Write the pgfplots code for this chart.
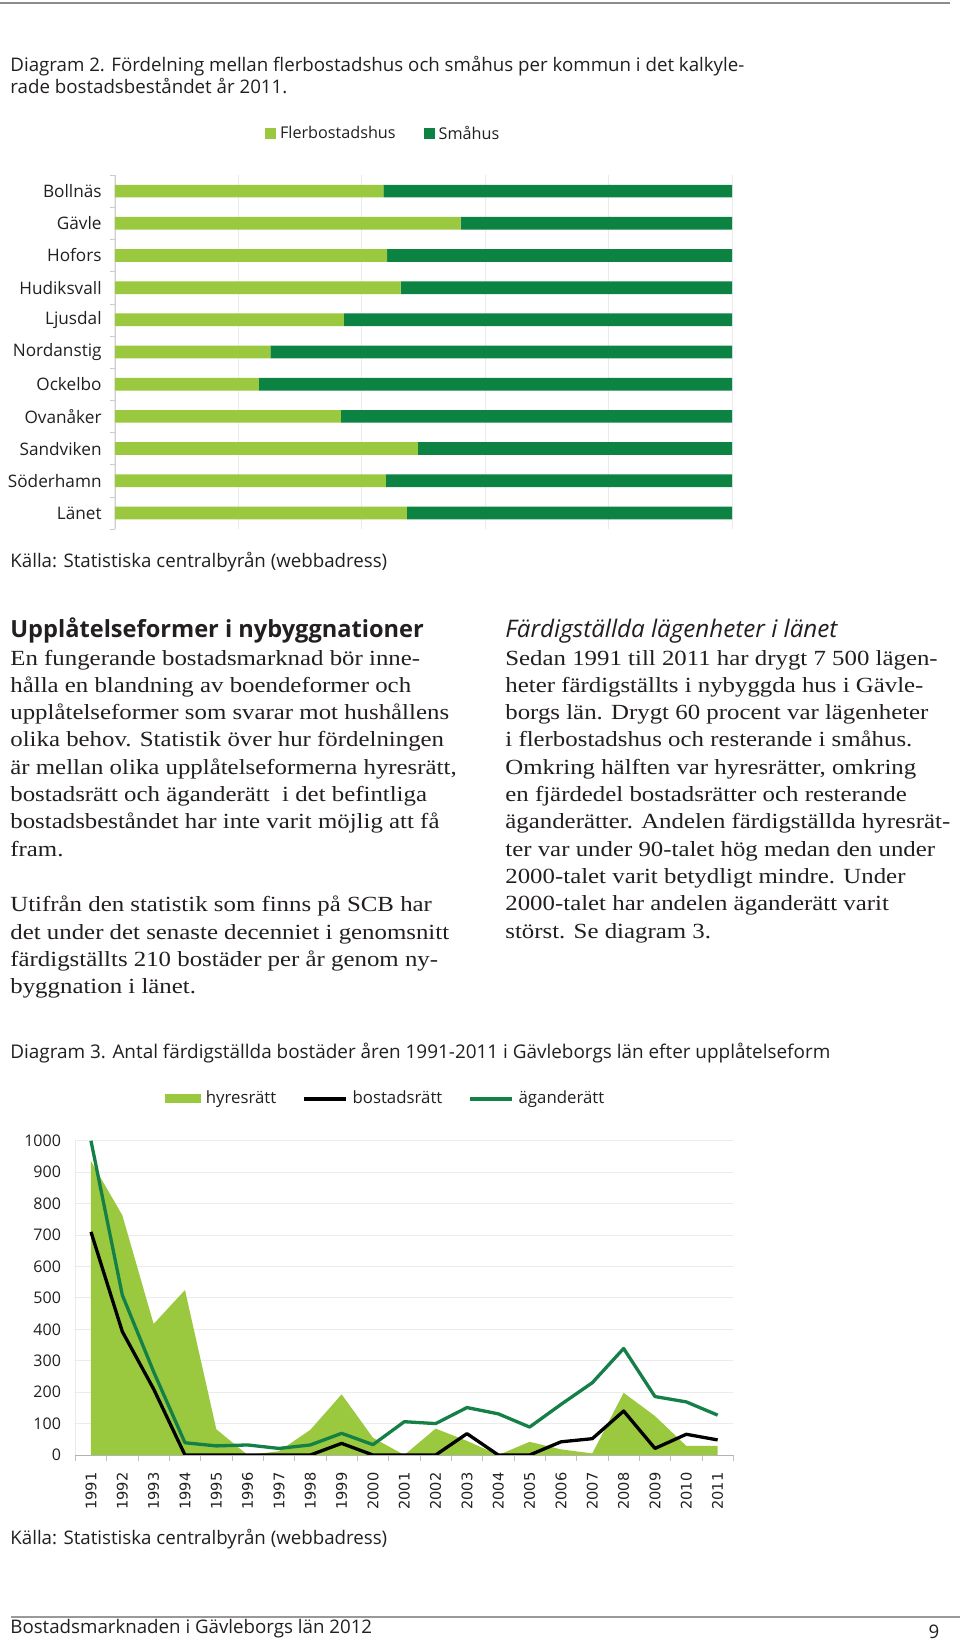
\documentclass[border=0pt]{standalone}
\usepackage{fontspec}
\usepackage{pgfplots}
\pgfplotsset{compat=1.18}
\setmainfont{Liberation Serif}
\newfontfamily\osans{Open Sans}
\newfontfamily\bodyserif[FakeStretch=1.15]{Liberation Serif}
\newfontfamily\yearfont{DejaVu Sans}
\definecolor{lgreen}{RGB}{154,200,62}
\definecolor{dgreen}{RGB}{12,131,67}
\definecolor{lgline}{RGB}{20,128,72}
\definecolor{txt}{RGB}{35,31,32}
\newcommand\chartfnt{\osans\fontsize{9.35}{11}\selectfont}
\newcommand\bodyfnt{\bodyserif\fontsize{10.8}{13.65}\selectfont}
\newcommand\bl[3]{\node[anchor=base west, inner sep=0pt, font=\bodyfnt, text=txt] at (#1,#2) {#3};}
\pgfplotsset{
  sqlegend/.style={legend image code/.code={\fill[##1] (0pt,-2.75pt) rectangle (5.5pt,2.75pt);}},
  arealegend/.style={legend image code/.code={\fill[##1] (0pt,-2.25pt) rectangle (18pt,2.25pt);}},
  linelegend/.style={legend image code/.code={\draw[##1] (0pt,0pt) -- (21pt,0pt);}},
}
\begin{document}
\begin{tikzpicture}
\begin{scope}[x=0.5pt,y=-0.5pt]
\useasboundingbox (0,0) rectangle (960,1645);
\fill[white] (0,0) rectangle (960,1645);
\draw[black!45, line width=1pt] (0,3) -- (950,3);
\node[anchor=base west, inner sep=0pt, font=\chartfnt, text=txt] at (10,71.7) {Diagram 2. Fördelning mellan flerbostadshus och småhus per kommun i det kalkyle-};
\node[anchor=base west, inner sep=0pt, font=\chartfnt, text=txt] at (10,93.3) {rade bostadsbeståndet år 2011.};
\node[anchor=base west, inner sep=0pt, font=\chartfnt, text=txt] at (10,567) {Källa: Statistiska centralbyrån (webbadress)};
% left column
\node[anchor=base west, inner sep=0pt, font=\osans\bfseries\fontsize{11.8}{13}\selectfont, text=txt] at (10,637) {Upplåtelseformer i nybyggnationer};
\bl{10}{665}{En fungerande bostadsmarknad bör inne-}
\bl{10}{692.3}{hålla en blandning av boendeformer och}
\bl{10}{719.6}{upplåtelseformer som svarar mot hushållens}
\bl{10}{746.9}{olika behov. Statistik över hur fördelningen}
\bl{10}{774.2}{är mellan olika upplåtelseformerna hyresrätt,}
\bl{10}{801.5}{bostadsrätt och äganderätt~ i det befintliga}
\bl{10}{828.8}{bostadsbeståndet har inte varit möjlig att få}
\bl{10}{856.1}{fram.}
\bl{10}{911.7}{Utifrån den statistik som finns på SCB har}
\bl{10}{939}{det under det senaste decenniet i genomsnitt}
\bl{10}{966.3}{färdigställts 210 bostäder per år genom ny-}
\bl{10}{993.6}{byggnation i länet.}
% right column
\node[anchor=base west, inner sep=0pt, font=\osans\itshape\fontsize{12.1}{13}\selectfont, text=txt] at (505,637) {Färdigställda lägenheter i länet};
\bl{505}{665}{Sedan 1991 till 2011 har drygt 7 500 lägen-}
\bl{505}{692.3}{heter färdigställts i nybyggda hus i Gävle-}
\bl{505}{719.6}{borgs län. Drygt 60 procent var lägenheter}
\bl{505}{746.9}{i flerbostadshus och resterande i småhus.}
\bl{505}{774.2}{Omkring hälften var hyresrätter, omkring}
\bl{505}{801.5}{en fjärdedel bostadsrätter och resterande}
\bl{505}{828.8}{äganderätter. Andelen färdigställda hyresrät-}
\bl{505}{856.1}{ter var under 90-talet hög medan den under}
\bl{505}{883.4}{2000-talet varit betydligt mindre. Under}
\bl{505}{910.7}{2000-talet har andelen äganderätt varit}
\bl{505}{938}{störst. Se diagram 3.}
\node[anchor=base west, inner sep=0pt, font=\osans\fontsize{9.45}{11}\selectfont, text=txt] at (10,1058) {Diagram 3. Antal färdigställda bostäder åren 1991-2011 i Gävleborgs län efter upplåtelseform};
\node[anchor=base west, inner sep=0pt, font=\chartfnt, text=txt] at (10,1544) {Källa: Statistiska centralbyrån (webbadress)};
\draw[black!40, line width=0.8pt] (11,1617) -- (960,1617);
\node[anchor=base west, inner sep=0pt, font=\chartfnt, text=txt] at (10,1633) {Bostadsmarknaden i Gävleborgs län 2012};
\node[anchor=base, inner sep=0pt, font=\chartfnt, text=txt] at (934,1638) {9};
\end{scope}

% ---------- Diagram 2 ----------
\begin{axis}[
  at={(57.5pt,-264.5pt)}, anchor=south west,
  scale only axis, width=308.5pt, height=177pt,
  xbar stacked, bar width=6.35pt,
  xmin=0, xmax=100, ymin=-0.5, ymax=10.5, y dir=reverse,
  axis line style={draw=none},
  xtick={0,20,...,100}, xticklabels={}, xmajorgrids,
  grid style={draw=black!8, line width=0.5pt},
  ytick={0,...,10}, ytick pos=left, xtick pos=bottom,
  yticklabels={Bollnäs,Gävle,Hofors,Hudiksvall,Ljusdal,Nordanstig,Ockelbo,Ovanåker,Sandviken,Söderhamn,Länet},
  minor ytick={-0.5,0.5,...,10.5},
  major tick length=0pt, minor tick length=2.5pt, tick align=outside,
  minor tick style={black!20},
  yticklabel style={font=\osans\fontsize{8.6}{10}\selectfont, inner sep=0pt, text=txt},
  yticklabel shift=6.5pt,
  legend columns=2,
  legend style={at={(0.433,1.116)}, anchor=center, draw=none, fill=none,
    font=\osans\fontsize{8.1}{10}\selectfont, nodes={inner sep=0pt, text=txt},
    /tikz/every odd column/.append style={column sep=2pt},
    /tikz/every even column/.append style={column sep=14pt}},
]
\addplot[fill=lgreen, draw=none, sqlegend] coordinates {
(43.5,0) (56.0,1) (44.1,2) (46.3,3) (37.1,4) (25.2,5) (23.3,6) (36.6,7) (49.1,8) (43.9,9) (47.3,10)};
\addlegendentry{Flerbostadshus}
\addplot[fill=dgreen, draw=none, sqlegend] coordinates {
(56.5,0) (44.0,1) (55.9,2) (53.7,3) (62.9,4) (74.8,5) (76.7,6) (63.4,7) (50.9,8) (56.1,9) (52.7,10)};
\addlegendentry{Småhus}
\draw[black!18] (rel axis cs:0,0) -- (rel axis cs:0,1);
\end{axis}

% ---------- Diagram 3 ----------
\begin{axis}[
  at={(37.65pt,-727.5pt)}, anchor=south west,
  scale only axis, width=329pt, height=157.15pt,
  xmin=0.5, xmax=21.5, ymin=0, ymax=1000,
  axis line style={draw=none},
  xtick={1,...,21},
  xticklabels={1991,1992,1993,1994,1995,1996,1997,1998,1999,2000,2001,2002,2003,2004,2005,2006,2007,2008,2009,2010,2011},
  minor xtick={0.5,1.5,...,21.5},
  xtick pos=bottom, ytick pos=left,
  ytick={0,100,...,1000}, ymajorgrids,
  grid style={draw=black!8, line width=0.5pt},
  major tick length=0pt, minor tick length=3pt, tick align=outside,
  minor tick style={black!25},
  xticklabel style={rotate=90, anchor=east, inner sep=0pt, font=\yearfont\fontsize{7.3}{8}\selectfont, text=txt},
  xticklabel shift=8.5pt,
  yticklabel style={inner sep=0pt, font=\osans\fontsize{8}{10}\selectfont, text=txt},
  yticklabel shift=7pt,
  /pgf/number format/assume math mode=true,
  /pgf/number format/1000 sep={},
  legend columns=3,
  legend style={at={(0.47,1.133)}, anchor=center, draw=none, fill=none,
    font=\osans\fontsize{8.4}{10}\selectfont, nodes={inner sep=0pt, text=txt},
    /tikz/every odd column/.append style={column sep=2.5pt},
    /tikz/every even column/.append style={column sep=13pt}},
]
\addplot[fill=lgreen, draw=none, arealegend] coordinates {
(1,935) (2,763) (3,417) (4,525) (5,82) (6,0) (7,12) (8,80) (9,193) (10,55) (11,0) (12,84) (13,45) (14,0) (15,42) (16,18) (17,5) (18,198) (19,124) (20,29) (21,29)} \closedcycle;
\addlegendentry{hyresrätt}
\addplot[black, line width=1.65pt, line join=round, linelegend] coordinates {
(1,710) (2,393) (3,210) (4,0) (5,0) (6,0) (7,0) (8,0) (9,37) (10,0) (11,0) (12,0) (13,68) (14,0) (15,0) (16,42) (17,52) (18,140) (19,21) (20,66) (21,48)};
\addlegendentry{bostadsrätt}
\addplot[lgline, line width=1.65pt, line join=round, linelegend] coordinates {
(1,1000) (2,509) (3,265) (4,39) (5,29) (6,32) (7,21) (8,32) (9,69) (10,33) (11,106) (12,100) (13,151) (14,131) (15,89) (16,161) (17,230) (18,339) (19,186) (20,169) (21,127)};
\addlegendentry{äganderätt}
\draw[black!30] (rel axis cs:0,0) -- (rel axis cs:1,0);
\draw[black!12] (rel axis cs:0,0) -- (rel axis cs:0,1);
\end{axis}
\end{tikzpicture}
\end{document}
